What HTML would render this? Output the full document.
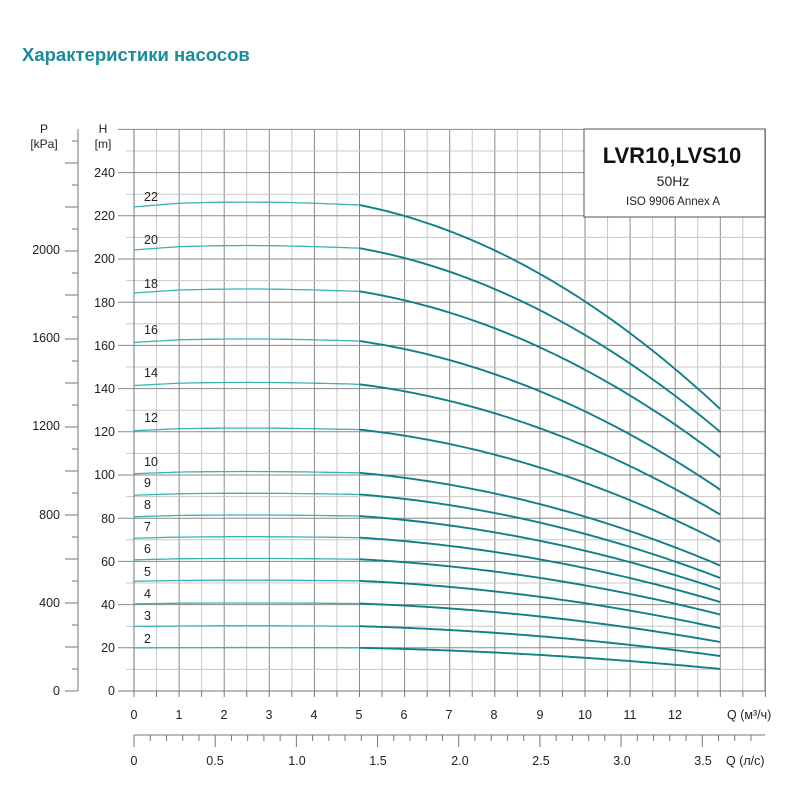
<!DOCTYPE html>
<html><head><meta charset="utf-8"><style>
body{margin:0;background:#fff;width:800px;height:800px;overflow:hidden}
svg{position:absolute;left:0;top:0}
text{font-family:"Liberation Sans",sans-serif;fill:#222}
</style></head><body>
<svg id="s" width="800" height="800" xmlns="http://www.w3.org/2000/svg">
<g id="grid"></g>
<rect x="584" y="129" width="181" height="88" fill="#fff" stroke="#555" stroke-width="1"/>
<g id="curves"></g>
<text x="22" y="61" font-size="18.5" font-weight="bold" style="fill:#1a8c9c">Характеристики насосов</text>
<text x="672" y="163" font-size="22" font-weight="bold" text-anchor="middle" style="fill:#111">LVR10,LVS10</text>
<text x="673" y="186" font-size="14" text-anchor="middle">50Hz</text>
<text x="673" y="205" font-size="11.5" text-anchor="middle">ISO 9906 Annex A</text>
<text x="44" y="133" font-size="12" text-anchor="middle">P</text>
<text x="44" y="148" font-size="12" text-anchor="middle">[kPa]</text>
<text x="103" y="133" font-size="12" text-anchor="middle">H</text>
<text x="103" y="148" font-size="12" text-anchor="middle">[m]</text>
<g font-size="12.5" text-anchor="end">
<text x="115" y="177">240</text><text x="115" y="220">220</text><text x="115" y="263">200</text><text x="115" y="307">180</text><text x="115" y="350">160</text><text x="115" y="393">140</text><text x="115" y="436">120</text><text x="115" y="479">100</text><text x="115" y="523">80</text><text x="115" y="566">60</text><text x="115" y="609">40</text><text x="115" y="652">20</text><text x="115" y="695">0</text>
<text x="60" y="254">2000</text><text x="60" y="342">1600</text><text x="60" y="430">1200</text><text x="60" y="519">800</text><text x="60" y="607">400</text><text x="60" y="695">0</text>
</g>
<g font-size="12.5" text-anchor="middle">
<text x="134" y="719">0</text><text x="179" y="719">1</text><text x="224" y="719">2</text><text x="269" y="719">3</text><text x="314" y="719">4</text><text x="359" y="719">5</text><text x="404" y="719">6</text><text x="449" y="719">7</text><text x="494" y="719">8</text><text x="540" y="719">9</text><text x="585" y="719">10</text><text x="630" y="719">11</text><text x="675" y="719">12</text>
<text x="134" y="765">0</text><text x="215" y="765">0.5</text><text x="297" y="765">1.0</text><text x="378" y="765">1.5</text><text x="460" y="765">2.0</text><text x="541" y="765">2.5</text><text x="622" y="765">3.0</text><text x="703" y="765">3.5</text>
</g>
<text x="727" y="719" font-size="12.5">Q (м³/ч)</text>
<text x="726" y="765" font-size="12.5">Q (л/с)</text>
<g font-size="12.5">
<text x="144" y="201">22</text><text x="144" y="244">20</text><text x="144" y="288">18</text><text x="144" y="334">16</text><text x="144" y="377">14</text><text x="144" y="422">12</text><text x="144" y="466">10</text><text x="144" y="487">9</text><text x="144" y="509">8</text><text x="144" y="531">7</text><text x="144" y="553">6</text><text x="144" y="576">5</text><text x="144" y="598">4</text><text x="144" y="620">3</text><text x="144" y="643">2</text>
</g>
</svg>
<script>
var NS="http://www.w3.org/2000/svg";
function L(p,x1,y1,x2,y2,c,w){var e=document.createElementNS(NS,"line");e.setAttribute("x1",x1);e.setAttribute("y1",y1);e.setAttribute("x2",x2);e.setAttribute("y2",y2);e.setAttribute("stroke",c);e.setAttribute("stroke-width",w);p.appendChild(e);}
var g=document.getElementById("grid");
var X0=134,DX=45.1,Y0=691,DY=2.16;
for(var k=0;k<=28;k++){var x=X0+k*DX/2;L(g,x,129,x,691,k%2?"#c8c8c8":"#8a8a8a",1);L(g,x,691,x,697,"#777",1);}
for(var k=0;k<=26;k++){var y=Y0-k*21.6;L(g,k%2?126:118,y,765,y,k%2?"#c8c8c8":"#8a8a8a",1);}
L(g,765,129,765,691,"#777",1);L(g,134,129,134,691,"#777",1);L(g,118,691,765,691,"#777",1);
L(g,78,129,78,691,"#777",1);
for(var k=0;k<=25;k++){var y=691-k*22;L(g,k%2?72:65,y,78,y,"#777",1);}
L(g,134,735,765,735,"#777",1);
for(var k=0;k<=38;k++){var x=134+k*16.236;if(x>766)break;L(g,x,735,x,k%5?741:747,"#777",1);}
var c=document.getElementById("curves");
var st=[[22,225,.58],[20,205,.585],[18,185,.585],[16,162,.575],[14,142,.575],[12,121,.57],[10,101,.575],[9,91,.575],[8,81,.58],[7,71,.58],[6,61,.58],[5,51,.57],[4,40.5,.56],[3,30,.54],[2,20,.51]];
function f(q,e){ if(q<=5) return 1+0.006*Math.sin(Math.PI*q/5)-0.004*(q<1?1-q:0);
 var t=(q-5)/8; return 1-(1-e)*(0.35*t+0.65*t*t);}
st.forEach(function(s){
 var d1="",d2="";
 for(var q=0;q<=5.001;q+=0.1){var x=X0+q*DX,y=Y0-s[1]*f(q,s[2])*DY;d1+=(q?"L":"M")+x.toFixed(1)+" "+y.toFixed(1);}
 for(var q=5;q<=13.001;q+=0.1){var x=X0+q*DX,y=Y0-s[1]*f(q,s[2])*DY;d2+=(q>5?"L":"M")+x.toFixed(1)+" "+y.toFixed(1);}
 var p=document.createElementNS(NS,"path");p.setAttribute("d",d1);p.setAttribute("fill","none");p.setAttribute("stroke","#3cb3b3");p.setAttribute("stroke-width","1.3");c.appendChild(p);
 p=document.createElementNS(NS,"path");p.setAttribute("d",d2);p.setAttribute("fill","none");p.setAttribute("stroke","#117f88");p.setAttribute("stroke-width","1.9");c.appendChild(p);
});
</script>
</body></html>
